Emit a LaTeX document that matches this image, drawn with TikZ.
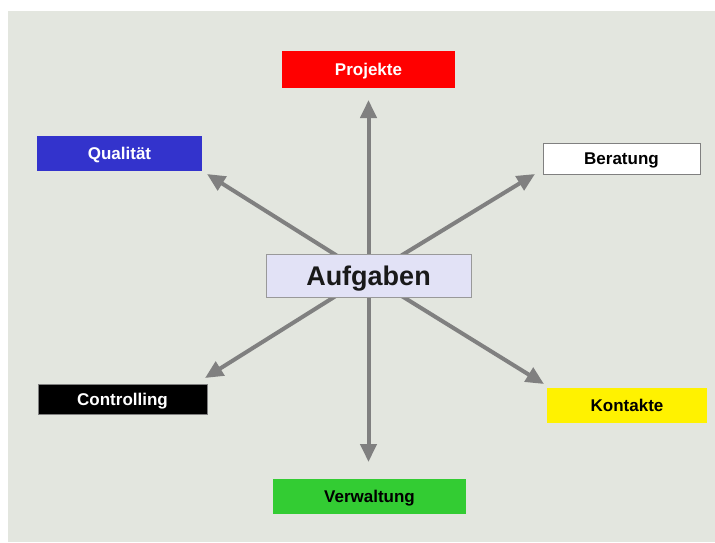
\documentclass[tikz,border=0pt]{standalone}
\usepackage{fontspec}
\setmainfont{Liberation Sans}
\usetikzlibrary{arrows.meta}
\definecolor{bgc}{HTML}{E3E6DF}
\definecolor{arrc}{HTML}{808080}
\definecolor{qblue}{HTML}{3333CC}
\definecolor{vgreen}{HTML}{33CC33}
\definecolor{auffill}{HTML}{E2E2F6}
\begin{document}
\begin{tikzpicture}[x=1pt,y=-1pt,
  box/.style={rectangle,inner sep=0pt,text height=12.5pt,text depth=0pt,font=\fontsize{17}{20}\selectfont\bfseries},
  conn/.style={draw=arrc,line width=4pt,-{Triangle[length=18pt,width=16pt]}}]
\useasboundingbox (0,0) rectangle (715,542);
\fill[white] (0,0) rectangle (715,542);
\fill[bgc] (8,11) rectangle (715,542);
\coordinate (c) at (368.5,275.5);
\coordinate (tP) at (368.5,100);
\coordinate (tV) at (368.5,462);
\coordinate (tQ) at (207,174);
\coordinate (tB) at (535,174);
\coordinate (tC) at (205,378);
\coordinate (tK) at (544,384);
\draw[conn] (c) -- (tP);
\draw[conn] (c) -- (tV);
\draw[conn] (c) -- (tQ);
\draw[conn] (c) -- (tB);
\draw[conn] (c) -- (tC);
\draw[conn] (c) -- (tK);
\node[box,fill=red,text=white,minimum width=173pt,minimum height=37pt] (P) at (368.5,69.5) {Projekte};
\node[box,fill=qblue,text=white,minimum width=165pt,minimum height=35pt] (Q) at (119.5,153.5) {Qualität};
\node[box,fill=white,draw=arrc,line width=0.8pt,text=black,minimum width=157pt,minimum height=31pt] (B) at (621.5,158.5) {Beratung};
\node[box,fill=auffill,draw=arrc!80,line width=0.8pt,text=black!90,minimum width=205pt,minimum height=43pt,text height=19.5pt,font=\fontsize{27}{30}\selectfont\bfseries] (A) at (368.5,275.5) {Aufgaben};
\node[box,fill=black,draw=arrc,line width=0.6pt,text=white,minimum width=169pt,minimum height=30pt] (C) at (122.5,399) {Controlling};
\node[box,fill=vgreen,text=black,minimum width=193pt,minimum height=35pt] (V) at (369.5,496.5) {Verwaltung};
\node[box,fill=yellow,text=black,minimum width=160pt,minimum height=35pt] (K) at (627,405.5) {Kontakte};
\end{tikzpicture}
\end{document}
